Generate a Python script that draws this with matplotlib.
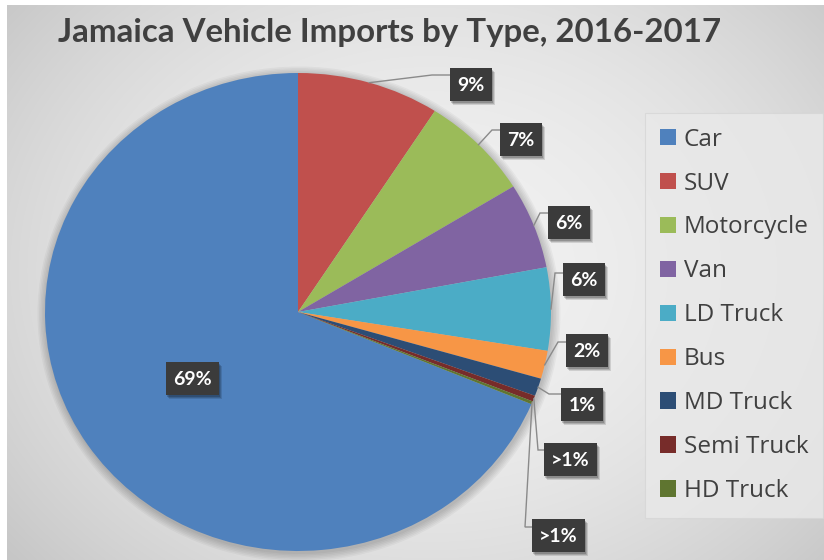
import numpy as np
import matplotlib
matplotlib.use("Agg")
import matplotlib.pyplot as plt
from matplotlib.patches import Rectangle, Ellipse

# ---- data -------------------------------------------------------------
categories = ["Car", "SUV", "Motorcycle", "Van", "LD Truck", "Bus",
              "MD Truck", "Semi Truck", "HD Truck"]
shares = [68.7, 9.1, 7.1, 5.8, 5.6, 1.9, 1.2, 0.4, 0.2]
colors = ["#4F81BD", "#C0504D", "#9BBB59", "#8064A2", "#4BACC6",
          "#F79646", "#2C4D75", "#772C2A", "#5F7530"]
title = "Jamaica Vehicle Imports by Type, 2016-2017"


def pct_text(v):
    return ">1%" if v < 1 else f"{v:.0f}%"


# ---- layout (pixel units, origin top-left) ----------------------------
W, H = 824, 560
cx, cy, rx, ry = 298, 312, 253, 239
# label box: (left, top), leader elbow point (None = no leader)
label_layout = [
    ((166, 362), None),
    ((450, 68), (432, 75)),
    ((500, 123), (492, 130)),
    ((548, 206), (540, 213)),
    ((563, 263), (555, 273)),
    ((566, 334), (558, 342)),
    ((561, 388), (549, 394)),
    ((544, 443), (538, 450)),
    ((532, 519), (525, 527)),
]
FONT = "Lato"
LEGEND_FONT = "Open Sans"
TEXT_DARK = "#404040"

fig = plt.figure(figsize=(W / 100, H / 100), dpi=100)

# ---- background: soft radial grey gradient ----------------------------
bg = fig.add_axes([0, 0, 1, 1])
yy, xx = np.mgrid[0:H, 0:W]
r2 = ((xx - 430) / 520.0) ** 2 + ((yy - 270) / 420.0) ** 2
shade = np.clip(0.945 - 0.15 * r2, 0.78, 0.95)
img = np.dstack([shade] * 3)
img[:5, :] = 1.0
img[:, :7] = 1.0
bg.imshow(img, extent=(0, W, H, 0), aspect="auto", interpolation="bilinear")
bg.set_xlim(0, W)
bg.set_ylim(H, 0)
bg.axis("off")

# soft shadow halo behind the pie
for k in range(6):
    bg.add_patch(Ellipse((cx + 1, cy + 2), 2 * rx + 2 + 3 * k, 2 * ry + 2 + 3 * k,
                         facecolor="black", edgecolor="none", alpha=0.035))

# ---- pie ---------------------------------------------------------------
pie_ax = fig.add_axes([(cx - rx) / W, (H - cy - ry) / H, 2 * rx / W, 2 * ry / H])
total = float(sum(shares))
wedges, _ = pie_ax.pie(shares, colors=colors, counterclock=False,
                       startangle=90 + shares[0] / total * 360,
                       wedgeprops=dict(linewidth=0))
pie_ax.set_aspect("auto")
pie_ax.set_xlim(-1, 1)
pie_ax.set_ylim(-1, 1)

# ---- overlay for data labels and leader lines -------------------------
ov = fig.add_axes([0, 0, 1, 1])
ov.set_xlim(0, W)
ov.set_ylim(H, 0)
ov.axis("off")
ov.patch.set_alpha(0)

for w, v, ((bx, by), elbow) in zip(wedges, shares, label_layout):
    txt = pct_text(v)
    bw, bh = 20 + 11 * len(txt), 33
    if elbow is not None:
        mid = np.deg2rad((w.theta1 + w.theta2) / 2)
        ax_x = cx + rx * np.cos(mid)
        ax_y = cy - ry * np.sin(mid)
        ov.plot([ax_x, elbow[0], bx], [ax_y, elbow[1], elbow[1]],
                color="#8a8a8a", lw=1.0, solid_joinstyle="miter", zorder=2)
    for d, a in ((3.5, 0.12), (2.5, 0.15), (1.5, 0.18)):
        ov.add_patch(Rectangle((bx + d, by + d), bw, bh, facecolor="black",
                               edgecolor="none", alpha=a, zorder=3))
    ov.add_patch(Rectangle((bx, by), bw, bh, facecolor="#3b3b3b",
                           edgecolor="none", zorder=4))
    ov.text(bx + bw / 2, by + bh / 2 + 1, txt, ha="center", va="center",
            color="white", fontsize=14, fontweight="bold", family=FONT, zorder=5)

# ---- title -------------------------------------------------------------
ov.text(390, 42, title, ha="center", va="baseline", fontsize=23.8,
        fontweight="bold", color=TEXT_DARK, family=FONT)

# ---- legend ------------------------------------------------------------
leg = fig.legend(wedges, categories, loc="upper left",
                 bbox_to_anchor=(645 / W, 1 - 113 / H),
                 prop=dict(family=LEGEND_FONT, size=17.5),
                 handlelength=0.66, handleheight=0.66, handletextpad=0.33,
                 labelspacing=0.82, borderpad=0.6, borderaxespad=0,
                 frameon=True, fancybox=False)
leg.get_frame().set_facecolor("#e9e9e9")
leg.get_frame().set_edgecolor("#d6d6d6")
leg.get_frame().set_linewidth(0.8)
for t in leg.get_texts():
    t.set_color(TEXT_DARK)

fig.savefig("out.png", dpi=100)
